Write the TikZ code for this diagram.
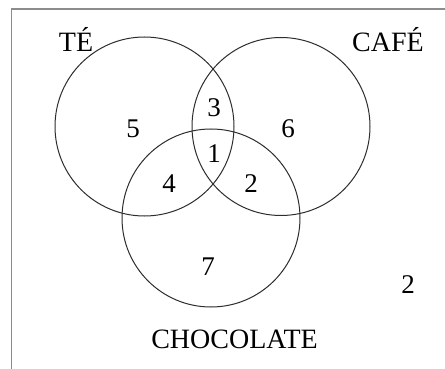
\documentclass[tikz,border=0pt]{standalone}
\usepackage{fontspec}
\setmainfont{Liberation Serif}
\usepackage{tikz}
\definecolor{FrameGray}{RGB}{140,140,140}
\definecolor{RingGray}{RGB}{45,45,45}

\begin{document}
\begin{tikzpicture}[
  x=1pt, y=-1pt,
  ring/.style={
    draw=RingGray,
    line width=1pt
  },
  frame/.style={
    draw=FrameGray,
    line width=1.1pt
  },
  lab/.style={anchor=base,inner sep=0pt,font=\fontsize{28}{30}\selectfont},
  num/.style={anchor=base,inner sep=0pt,font=\fontsize{27}{30}\selectfont}
]
\useasboundingbox (0,0) rectangle (445,369);
\fill[white] (0,0) rectangle (445,369);

% open frame (left and top edges only)
\coordinate (frameBL) at (11.5,369);
\coordinate (frameTL) at (11.5,9);
\coordinate (frameTR) at (445,9);
\draw[frame] (frameBL) -- (frameTL) -- (frameTR);

% the three sets
\coordinate (te) at (144.5,126.5);
\coordinate (cafe) at (281,126.5);
\coordinate (choco) at (211,218);
\draw[ring] (te) circle[radius=89.5pt];
\draw[ring] (cafe) circle[radius=89pt];
\draw[ring] (choco) circle[radius=89pt];

\node[lab] (teName) at (76,52) {TÉ};
\node[lab] (cafeName) at (388,52) {CAFÉ};
\node[lab] (chocoName) at (234.5,348) {CHOCOLATE};

% region counts
\node[num] (onlyTe) at (133,137) {5};
\node[num] (teCafe) at (214,117) {3};
\node[num] (onlyCafe) at (288,137) {6};
\node[num] (allThree) at (214,162) {1};
\node[num] (teChoco) at (169,192) {4};
\node[num] (cafeChoco) at (251,192) {2};
\node[num] (onlyChoco) at (208,275) {7};
\node[num] (none) at (408,293) {2};
\end{tikzpicture}
\end{document}
